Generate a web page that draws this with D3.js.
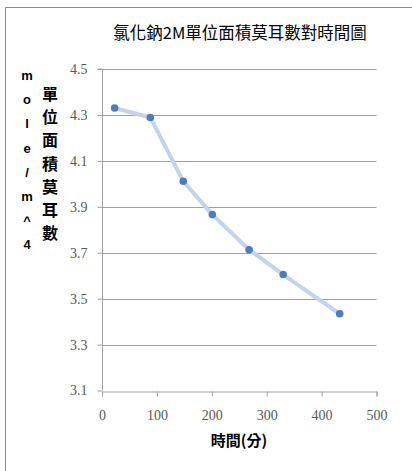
<!DOCTYPE html>
<html><head><meta charset="utf-8">
<script src="https://cdn.jsdelivr.net/npm/d3@7"></script>
<style>
html,body{margin:0;padding:0;background:#fff;}
svg{display:block;}
</style></head>
<body>
<script>
const titleText = "氯化鈉2M單位面積莫耳數對時間圖";
const xTitle = "時間(分)";
const yUnit = ["m","o","l","e","/","m","^","4"];
const yTitle = ["單","位","面","積","莫","耳","數"];
const times = [23, 88, 148, 201, 268, 330, 433];
const moles = [4.33, 4.289, 4.011, 3.866, 3.713, 3.605, 3.434];
const xTicks = [0, 100, 200, 300, 400, 500];
const yTicks = [3.1, 3.3, 3.5, 3.7, 3.9, 4.1, 4.3, 4.5];

const W = 412, H = 471;
const svg = d3.select("body").append("svg").attr("width", W).attr("height", H);

// frame (left and top edges)
svg.append("line").attr("x1",5.5).attr("x2",5.5).attr("y1",7.5).attr("y2",H).attr("stroke","#8c8c8c").attr("stroke-width",1);
svg.append("line").attr("x1",5.5).attr("x2",W).attr("y1",7.5).attr("y2",7.5).attr("stroke","#8c8c8c").attr("stroke-width",1);

const x = d3.scaleLinear().domain([0,500]).range([102, 376.5]);
const y = d3.scaleLinear().domain([3.1,4.5]).range([390.5, 69]);

// gridlines
svg.append("g").selectAll("line").data(yTicks.filter(d=>d>3.1)).join("line")
  .attr("x1", x(0)).attr("x2", x(500))
  .attr("y1", d=>Math.round(y(d))+0.5).attr("y2", d=>Math.round(y(d))+0.5)
  .attr("stroke","#a0a0a0").attr("stroke-width",1);

// y axis
const yAxis = d3.axisLeft(y).tickValues(yTicks).tickFormat(d3.format(".1f")).tickSize(5).tickPadding(10);
const gy = svg.append("g").attr("transform",`translate(${x(0)+0.5},0)`).call(yAxis);
gy.select(".domain").attr("stroke","#a0a0a0").attr("d",`M-5,${y(4.5)}H0V${y(3.1)}`);
gy.selectAll(".tick line").attr("stroke","#a0a0a0");
gy.selectAll(".tick text").attr("font-family","'Liberation Serif','Times New Roman',serif")
  .attr("font-size",14).attr("fill","#595959");

// x axis
const xAxis = d3.axisBottom(x).tickValues(xTicks).tickSize(5).tickPadding(14);
const gx = svg.append("g").attr("transform",`translate(0,${Math.round(y(3.1))+0.5})`).call(xAxis);
gx.select(".domain").attr("stroke","#a0a0a0");
gx.selectAll(".tick line").attr("stroke","#a0a0a0");
gx.selectAll(".tick text").attr("font-family","'Liberation Serif','Times New Roman',serif")
  .attr("font-size",14).attr("fill","#595959");

// line
const pts = times.map((t,i)=>[t, moles[i]]);
const line = d3.line().x(d=>x(d[0])).y(d=>y(d[1]));
svg.append("path").datum(pts).attr("d", line)
  .attr("fill","none").attr("stroke","#c3d3ee").attr("stroke-width",4)
  .attr("stroke-linejoin","round").attr("stroke-linecap","round");
svg.append("g").selectAll("circle").data(pts).join("circle")
  .attr("cx", d=>x(d[0])).attr("cy", d=>y(d[1])).attr("r", 3.8)
  .attr("fill","#4a7ebb");

// title
svg.append("text").attr("x", 240).attr("y", 39).attr("text-anchor","middle")
  .attr("font-family","'Noto Sans CJK TC','Noto Sans CJK SC',sans-serif")
  .attr("font-size",16.5).attr("fill","#000").text(titleText);

// y unit stacked letters
svg.append("g").selectAll("text").data(yUnit).join("text")
  .attr("x", 27).attr("y", (d,i)=>80 + i*24.2).attr("text-anchor","middle")
  .attr("font-family","'Liberation Sans',Arial,sans-serif").attr("font-weight","bold")
  .attr("font-size",13).attr("fill","#000").text(d=>d);

// y title stacked characters
svg.append("g").selectAll("text").data(yTitle).join("text")
  .attr("x", 50).attr("y", (d,i)=>100 + i*23.2).attr("text-anchor","middle")
  .attr("font-family","'Noto Sans CJK TC','Noto Sans CJK SC',sans-serif").attr("font-weight","bold")
  .attr("font-size",16).attr("fill","#000").text(d=>d);

// x title
svg.append("text").attr("x", 239).attr("y", 446).attr("text-anchor","middle")
  .attr("font-family","'Noto Sans CJK TC','Noto Sans CJK SC',sans-serif").attr("font-weight","bold")
  .attr("font-size",15).attr("fill","#000").text(xTitle);
</script>
</body></html>
